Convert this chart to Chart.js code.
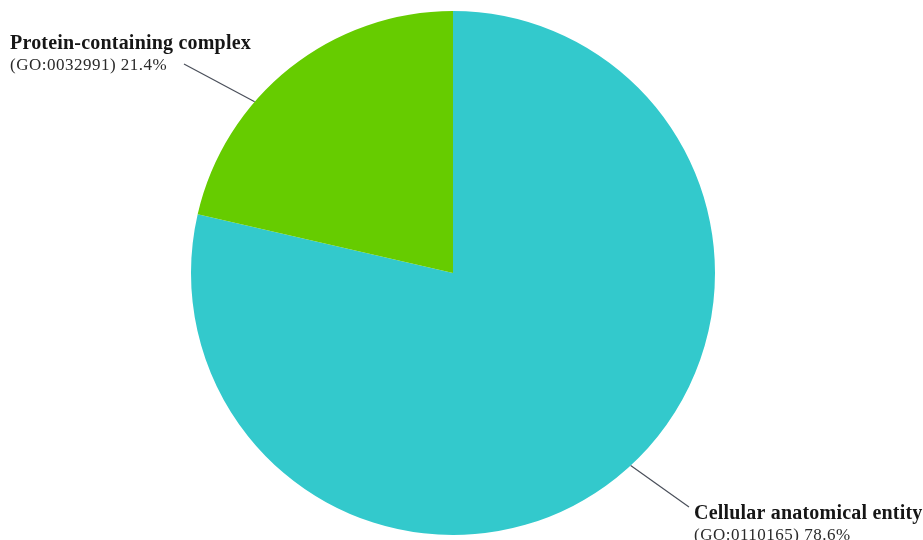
<!DOCTYPE html>
<html>
<head>
<meta charset="utf-8">
<script src="https://cdn.jsdelivr.net/npm/chart.js@4.4.0/dist/chart.umd.min.js"></script>
<style>
  html, body { margin: 0; padding: 0; background: #fff; }
  #wrap { width: 923px; height: 540px; }
</style>
</head>
<body>
<div id="wrap"><canvas id="goChart" width="923" height="540"></canvas></div>
<script>
// GO cellular component breakdown
var categories = ['Cellular anatomical entity', 'Protein-containing complex'];
var goIds = ['GO:0110165', 'GO:0032991'];
var percents = [78.6, 21.4];
var colors = ['#33c9cc', '#66cc00'];

// where each callout sits (label anchor + angle on the rim where the line starts, degrees clockwise from top)
var callouts = [
    { angle: 137.3, lineEnd: [689, 507], textX: 694, textY: 519 },
    { angle: -49.2, lineEnd: [184, 64], textX: 10, textY: 49 }
];

var calloutPlugin = {
    id: 'callouts',
    afterDraw: function(chart) {
        var ctx = chart.ctx;
        var meta = chart.getDatasetMeta(0);
        ctx.save();
        meta.data.forEach(function(arc, i) {
            var c = callouts[i];
            var rad = (c.angle - 90) * Math.PI / 180;
            var sx = arc.x + Math.cos(rad) * arc.outerRadius;
            var sy = arc.y + Math.sin(rad) * arc.outerRadius;
            ctx.strokeStyle = '#4a4f5a';
            ctx.lineWidth = 1.2;
            ctx.beginPath();
            ctx.moveTo(sx, sy);
            ctx.lineTo(c.lineEnd[0], c.lineEnd[1]);
            ctx.stroke();

            ctx.fillStyle = '#161616';
            ctx.textAlign = 'left';
            ctx.textBaseline = 'alphabetic';
            ctx.letterSpacing = '0.2px';
            ctx.font = 'bold 20px "Liberation Serif", "Times New Roman", serif';
            ctx.fillText(categories[i], c.textX, c.textY);
            ctx.fillStyle = '#2a2a2a';
            ctx.letterSpacing = '0.5px';
            ctx.font = '17px "Liberation Serif", "Times New Roman", serif';
            ctx.fillText('(' + goIds[i] + ') ' + percents[i] + '%', c.textX, c.textY + 21);
        });
        ctx.restore();
    }
};

var ctx = document.getElementById('goChart').getContext('2d');
var chart = new Chart(ctx, {
    type: 'pie',
    data: {
        labels: categories,
        datasets: [{
            data: percents,
            backgroundColor: colors,
            borderWidth: 0
        }]
    },
    options: {
        responsive: false,
        animation: false,
        layout: { padding: { top: 11, bottom: 5, left: 0, right: 17 } },
        plugins: {
            legend: { display: false },
            tooltip: { enabled: false }
        }
    },
    plugins: [calloutPlugin]
});
</script>
</body>
</html>
